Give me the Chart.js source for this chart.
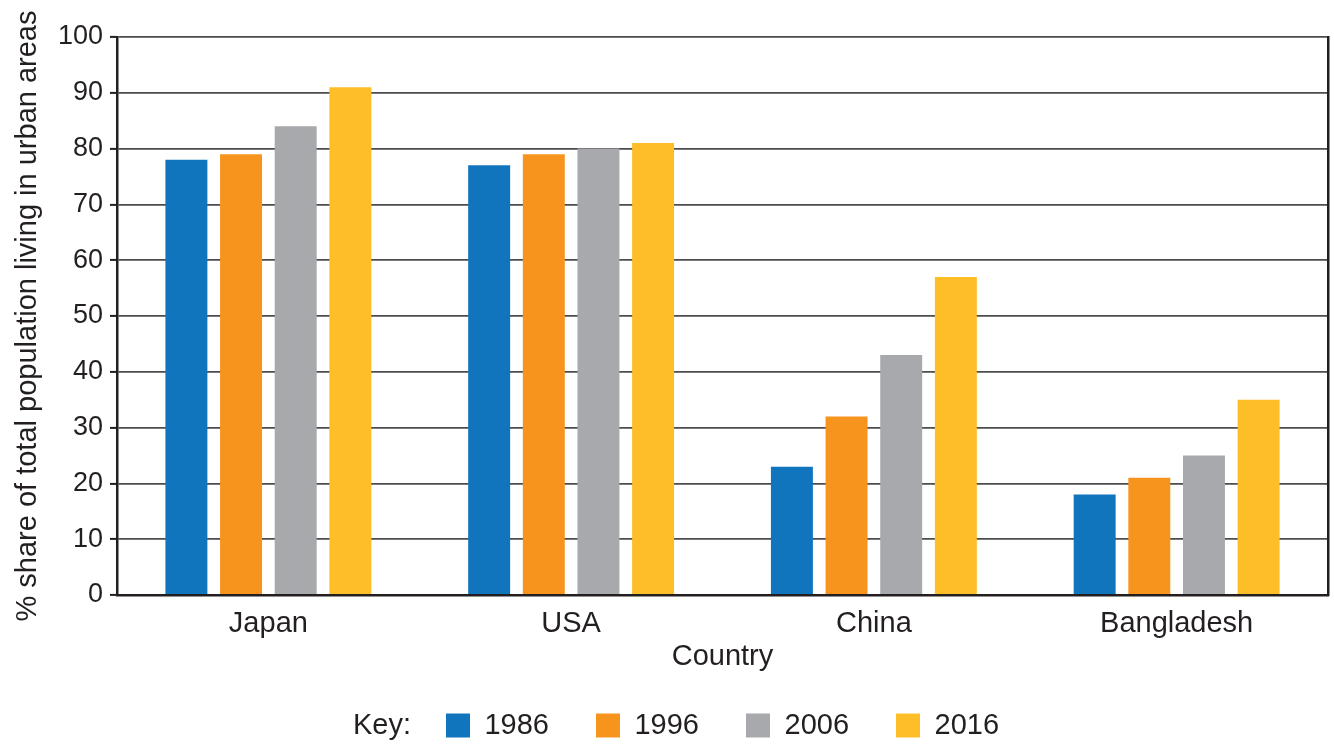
<!DOCTYPE html>
<html>
<head>
<meta charset="utf-8">
<script src="https://cdn.jsdelivr.net/npm/chart.js@4.4.0/dist/chart.umd.min.js"></script>
<style>
  html, body { margin: 0; padding: 0; background: #fff; }
  #wrap { width: 1334px; height: 744px; }
</style>
</head>
<body>
<div id="wrap"><canvas id="chart"></canvas></div>
<script>
const countries = ['Japan', 'USA', 'China', 'Bangladesh'];
const years = ['1986', '1996', '2006', '2016'];
const share1986 = [78, 77, 23, 18];
const share1996 = [79, 79, 32, 21];
const share2006 = [84, 80, 43, 25];
const share2016 = [91, 81, 57, 35];
const yearColors = ['#1075bc', '#f7941e', '#a7a9ac', '#fdbe27'];

const ink = '#231f20';
const font = 'Liberation Sans, Arial, sans-serif';

// "Key:" sits left of the first legend box
const keyLabel = {
  id: 'keyLabel',
  afterDraw(chart) {
    const boxes = chart.legend && chart.legend.legendHitBoxes;
    if (!boxes || !boxes.length) return;
    const hb = boxes[0];
    const ctx = chart.ctx;
    ctx.save();
    ctx.font = '29px ' + font;
    ctx.fillStyle = ink;
    ctx.textAlign = 'right';
    ctx.textBaseline = 'middle';
    ctx.fillText('Key:', hb.left - 35, hb.top + hb.height / 2);
    ctx.restore();
  }
};

new Chart(document.getElementById('chart'), {
  type: 'bar',
  data: {
    labels: countries,
    datasets: [share1986, share1996, share2006, share2016].map((d, i) => ({
      label: years[i],
      data: d,
      backgroundColor: yearColors[i],
      borderWidth: 0,
      categoryPercentage: 0.722,
      barPercentage: 0.768
    }))
  },
  options: {
    responsive: true,
    maintainAspectRatio: false,
    animation: false,
    layout: { padding: { top: 37, right: 6, left: 5, bottom: -6 } },
    plugins: {
      tooltip: { enabled: false },
      legend: {
        position: 'bottom',
        fullSize: false,
        labels: {
          boxWidth: 24,
          boxHeight: 24,
          padding: 47,
          color: ink,
          font: { family: font, size: 29 }
        }
      }
    },
    scales: {
      x: {
        grid: { display: false },
        border: { display: true, color: ink, width: 2.5 },
        ticks: { color: ink, padding: 4, font: { family: font, size: 29 } },
        title: {
          display: true,
          text: 'Country',
          color: ink,
          padding: 0,
          font: { family: font, size: 29, lineHeight: 0.48 }
        },
        afterFit(scale) { scale.height = 69; }
      },
      y: {
        min: 0,
        max: 100,
        grid: { color: '#4d4d4f', lineWidth: 1.8, tickLength: 7, tickColor: ink, tickWidth: 2 },
        border: { display: true, color: ink, width: 2.5 },
        ticks: { stepSize: 10, color: ink, padding: 7, font: { family: font, size: 27 } },
        title: {
          display: true,
          text: '% share of total population living in urban areas',
          color: ink,
          padding: { top: 6, bottom: 0 },
          font: { family: font, size: 29 }
        },
        afterFit(scale) { scale.width = 112; }
      },
      yRight: {
        position: 'right',
        min: 0,
        max: 100,
        grid: { display: false },
        ticks: { display: false },
        border: { display: true, color: ink, width: 2.5 },
        afterFit(scale) { scale.width = 0; }
      }
    }
  },
  plugins: [keyLabel]
});
</script>
</body>
</html>
